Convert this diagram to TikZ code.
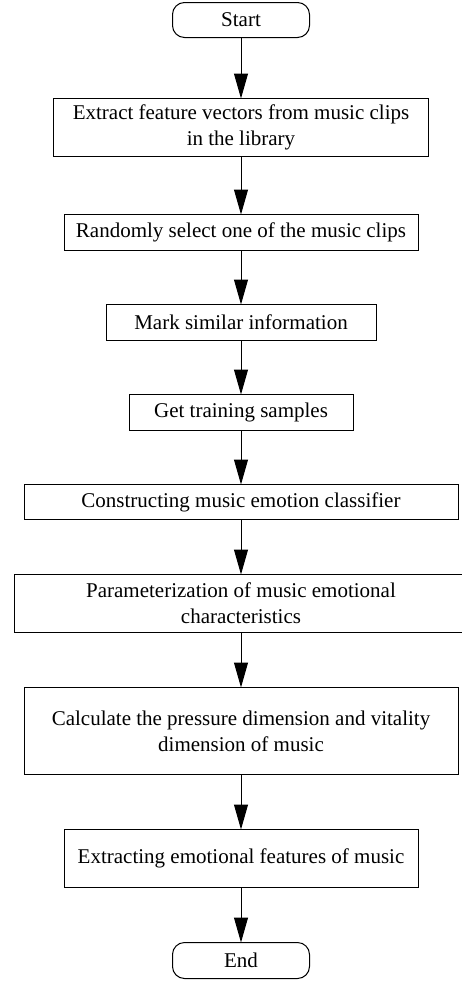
\documentclass[tikz,border=0pt]{standalone}
\usepackage{fontspec}
\setmainfont{Liberation Serif}
\usetikzlibrary{positioning,arrows.meta}

\begin{document}
\begin{tikzpicture}[
    x=1pt, y=1pt,
    node distance=55pt,
    stepbox/.style={rectangle, draw, line width=1pt, inner sep=0pt, outer sep=0pt, align=center, font=\fontsize{21}{26}\selectfont},
    termnode/.style={stepbox, rounded corners=12pt, minimum width=137pt, minimum height=35pt},
    flow/.style={-{Triangle[width=14pt,length=25pt]}, line width=1pt}
]
\useasboundingbox (0,0) rectangle (461,-983);

% Start and steps
\node[termnode] (start) at (241,-20) {Start};
\node[stepbox, minimum width=375pt, minimum height=58pt, below=61pt of start] (extract) {Extract feature vectors from music clips\\in the library};
\node[stepbox, minimum width=354pt, minimum height=36pt, below=58pt of extract] (select) {Randomly select one of the music clips};
\node[stepbox, minimum width=270pt, minimum height=36pt, below=54pt of select] (mark) {Mark similar information};
\node[stepbox, minimum width=224pt, minimum height=36pt, below=54pt of mark] (samples) {Get training samples};
\node[stepbox, minimum width=434pt, minimum height=35pt, below=54pt of samples] (classifier) {Constructing music emotion classifier};
\node[stepbox, minimum width=453pt, minimum height=58pt, below=of classifier] (param) {Parameterization of music emotional\\characteristics};
\node[stepbox, minimum width=434pt, minimum height=87pt, below=of param] (calc) {Calculate the pressure dimension and vitality\\dimension of music};
\node[stepbox, minimum width=354pt, minimum height=58pt, below=of calc] (features) {Extracting emotional features of music};
\node[termnode, minimum height=36pt, below=of features] (end) {End};

% Arrows
\draw[flow] (start) -- (extract);
\draw[flow] (extract) -- (select);
\draw[flow] (select) -- (mark);
\draw[flow] (mark) -- (samples);
\draw[flow] (samples) -- (classifier);
\draw[flow] (classifier) -- (param);
\draw[flow] (param) -- (calc);
\draw[flow] (calc) -- (features);
\draw[flow] (features) -- (end);
\end{tikzpicture}
\end{document}
